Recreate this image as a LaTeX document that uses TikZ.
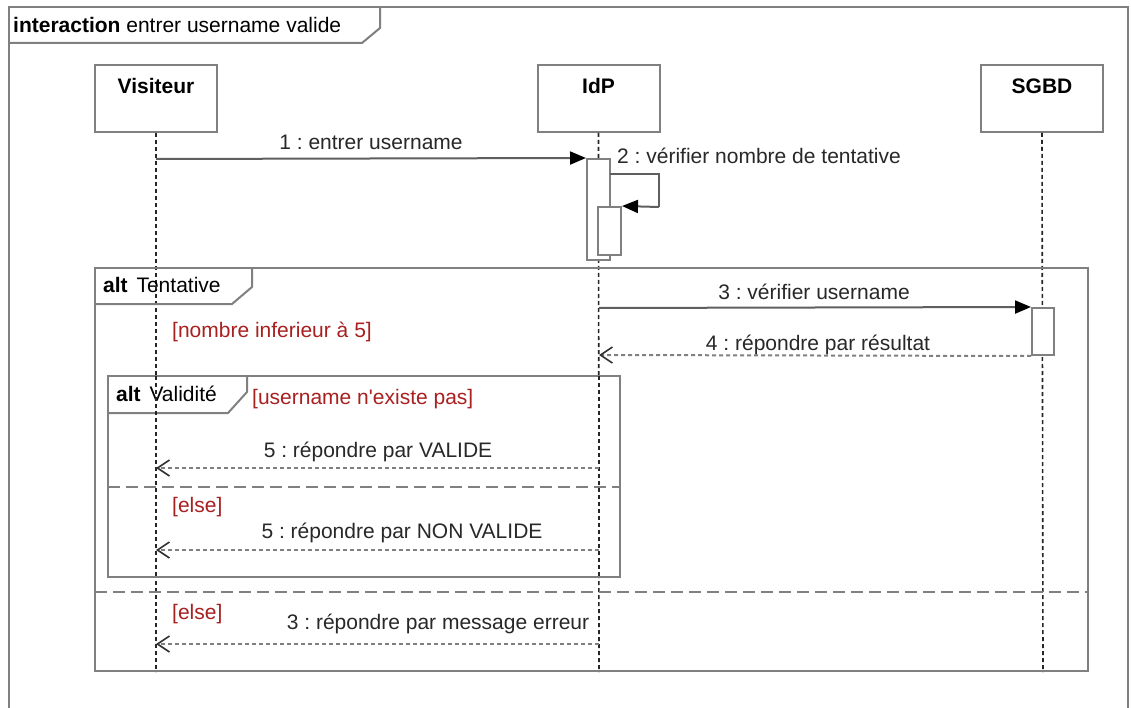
\documentclass[tikz,border=0pt]{standalone}
\usepackage{fontspec}
\setmainfont{Liberation Sans}
\newfontfamily\plainfont{Liberation Sans}
\usetikzlibrary{arrows.meta}
\definecolor{framegray}{RGB}{128,128,128}
\definecolor{msggray}{RGB}{95,95,95}
\definecolor{txtgray}{RGB}{40,40,40}
\definecolor{guardred}{RGB}{168,32,32}
\frenchspacing
\begin{document}
\begin{tikzpicture}[x=1pt,y=-1pt,
  font=\fontsize{21}{25}\selectfont,
  frame/.style={draw=framegray,line width=2pt,line join=miter},
  headbox/.style={draw=framegray,line width=2pt,fill=white,minimum width=122pt,minimum height=67pt,inner sep=0pt},
  headtxt/.style={font=\fontsize{21}{25}\selectfont\bfseries,anchor=base,inner sep=0pt},
  lifeline/.style={draw=black!85,line width=1.6pt,dash pattern=on 4pt off 3pt},
  actbox/.style={draw=framegray,line width=2pt,fill=white,inner sep=0pt},
  msg/.style={draw=msggray,line width=2pt,-{Triangle[length=16pt,width=13pt,fill=black,color=black]}},
  ret/.style={draw=framegray,line width=2pt,dash pattern=on 4pt off 3pt,-{Straight Barb[length=12pt,width=16pt,line width=1.6pt,color=black!80]}},
  sepline/.style={draw=framegray,line width=2.5pt,dash pattern=on 12pt off 6pt},
  lbl/.style={text=txtgray,inner sep=0pt,anchor=base},
  lblw/.style={text=txtgray,inner sep=0pt,anchor=base west},
  guard/.style={text=guardred,inner sep=0pt,anchor=base west}]
\useasboundingbox (0,0) rectangle (1131,708);
\fill[white] (0,0) rectangle (1131,708);

% outer interaction frame
\draw[frame] (9,708) -- (9,7) -- (1128,7) -- (1128,708);
\draw[frame] (9,43) -- (362,43) -- (380,28) -- (380,7);
\node[inner sep=0pt,anchor=base west,text=black] (title) at (13,33) {\textbf{interaction} entrer username valide};

% lifeline heads
\node[headbox] (vis) at (156,98.5) {};
\node[headbox] (idp) at (598.5,98.5) {};
\node[headbox] (sgbd) at (1042,98.5) {};
\node[headtxt] (vist) at (156,94) {Visiteur};
\node[headtxt] (idpt) at (598.5,94) {IdP};
\node[headtxt] (sgbdt) at (1042,94) {SGBD};

% lifelines
\coordinate (visend) at (156,672);
\coordinate (idpend) at (599,672);
\coordinate (sgbdend) at (1043,672);
\draw[lifeline] (vis.south) -- (visend);
\draw[lifeline] (idp.south) -- (idpend);
\draw[lifeline] (sgbd.south) -- (sgbdend);

% frames
\draw[frame] (95,268) rectangle (1088,671);
\draw[frame] (95,304) -- (232,304) -- (252,287) -- (252,268);
\node[inner sep=0pt,anchor=base west,text=black] (alt1) at (103,293) {\textbf{alt}\ \kern3pt Tentative};
\node[guard] (g1) at (172,337) {[nombre inferieur à 5]};

\draw[frame,fill=white] (108,376) rectangle (620,577);
\draw[frame] (108,413) -- (228,413) -- (247,392) -- (247,376);
\node[inner sep=0pt,anchor=base west,text=black] (alt2) at (116,401) {\textbf{alt}\ \kern3pt Validité};
\node[guard] (g2) at (252,404) {\plainfont [username n'existe pas]};

\draw[sepline] (108,487) -- (620,487);
\draw[sepline] (95,592) -- (1088,592);
\node[guard] (g3) at (172,512) {[else]};
\node[guard] (g4) at (172,619) {[else]};

% redraw lifelines over Validite frame fill
\draw[lifeline] (156,376) -- (156,577);
\draw[lifeline] (599,376) -- (599,577);

% activations
\node[actbox,minimum width=23pt,minimum height=101pt] (a1) at (598.5,209.5) {};
\node[actbox,minimum width=23pt,minimum height=48pt] (a2) at (609.5,231) {};
\node[actbox,minimum width=22pt,minimum height=47pt] (a3) at (1043,331.5) {};

% messages
\coordinate (m1s) at (156,159);
\draw[msg] (m1s) -- (a1.north west);
\node[lbl] (l1) at (371,150) {1 : entrer username};

\coordinate (s1) at (610,174);
\coordinate (s2) at (659,174);
\coordinate (s3) at (659,207);
\draw[draw=msggray,line width=2pt] (s1) -- (s2) -- (s3);
\draw[msg] (s3) -- (a2.north east);
\node[lblw] (l2) at (617,164) {2 : vérifier nombre de tentative};

\coordinate (m3s) at (599,308);
\draw[msg] (m3s) -- (a3.north west);
\node[lbl] (l3) at (814,299) {3 : vérifier username};

\coordinate (m4e) at (599,355);
\draw[ret] (a3.south west) -- (m4e);
\node[lbl] (l4) at (818,350) {4 : répondre par résultat};

\coordinate (m5s) at (599,468);
\coordinate (m5e) at (156,468);
\draw[ret] (m5s) -- (m5e);
\node[lbl] (l5) at (378,457) {5 : répondre par VALIDE};

\coordinate (m6s) at (599,550);
\coordinate (m6e) at (156,550);
\draw[ret] (m6s) -- (m6e);
\node[lbl] (l6) at (402,538) {5 : répondre par NON VALIDE};

\coordinate (m7s) at (599,644);
\coordinate (m7e) at (156,644);
\draw[ret] (m7s) -- (m7e);
\node[lbl] (l7) at (438,629) {3 : répondre par message erreur};
\end{tikzpicture}
\end{document}
